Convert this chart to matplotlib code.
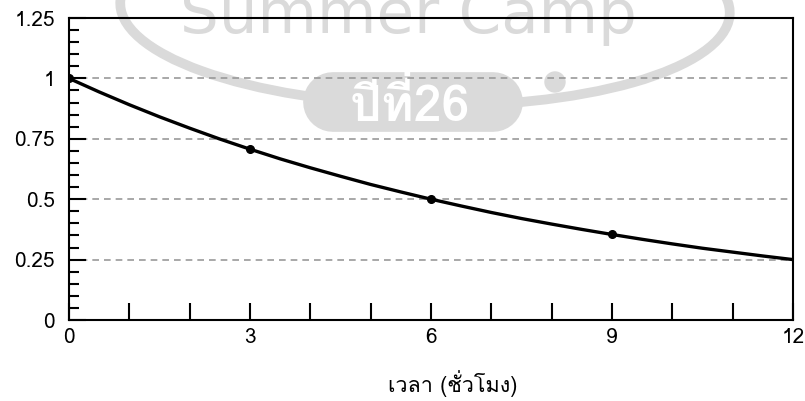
import matplotlib
matplotlib.use("Agg")
import matplotlib.pyplot as plt
from matplotlib import font_manager
from matplotlib.ft2font import FT2Font
from matplotlib.lines import Line2D
from matplotlib.patches import Ellipse
from matplotlib.ticker import MultipleLocator

# data (hours, fraction remaining)
hours = [0, 0.5, 1, 1.5, 2, 2.5, 3, 3.5, 4, 4.5, 5, 5.5, 6,
         6.5, 7, 7.5, 8, 8.5, 9, 9.5, 10, 10.5, 11, 11.5, 12]
remaining = [1.000, 0.944, 0.891, 0.841, 0.794, 0.749, 0.707, 0.667, 0.630,
             0.595, 0.561, 0.530, 0.500, 0.472, 0.445, 0.420, 0.397, 0.375,
             0.354, 0.334, 0.315, 0.297, 0.281, 0.265, 0.250]
marked_hours = [0, 3, 6, 9]
marked_values = [1.0, 0.707, 0.5, 0.354]
x_major = [0, 3, 6, 9, 12]
y_major = [0, 0.25, 0.5, 0.75, 1, 1.25]
y_labels = ["0", "0.25", "0.5", "0.75", "1", "1.25"]
grid_levels = [0.25, 0.5, 0.75, 1.0]
xlabel_text = "เวลา (ชั่วโมง)"


def find_thai_font():
    # pick the first installed font that actually has Thai glyphs
    preferred = []
    others = []
    for f in font_manager.fontManager.ttflist:
        try:
            cmap = FT2Font(f.fname).get_charmap()
        except Exception:
            continue
        if 0x0E40 in cmap and 0x0E27 in cmap:
            if "Thai" in f.name or "Loma" in f.name or "Sarabun" in f.name:
                preferred.append(f.name)
            else:
                others.append(f.name)
    found = preferred + others
    return found[0] if found else None


thai = find_thai_font()
families = [thai, "DejaVu Sans"] if thai else ["DejaVu Sans"]
plt.rcParams['font.family'] = families

W, H = 805, 401
fig = plt.figure(figsize=(W / 100, H / 100), dpi=100)
ax = fig.add_axes([69 / W, 1 - 320 / H, 724 / W, 302 / H])
ax.patch.set_visible(False)


def fx(px):
    return px / W


def fy(py):
    return 1 - py / H


# ------------------------------------------------
# faint watermark behind the axes
# ------------------------------------------------
wm = "#dadada"
ring = Ellipse((fx(425), fy(8)), 610 / W, 195 / H, angle=-3,
               transform=fig.transFigure, fill=False, edgecolor=wm,
               linewidth=7, zorder=-3)
fig.patches.append(ring)
dot = Ellipse((fx(555), fy(82)), 20 / W, 20 / H,
              transform=fig.transFigure, color=wm, zorder=-2)
fig.patches.append(dot)
# pill drawn as a fat line with round caps
pill = Line2D([fx(333), fx(493)], [fy(102), fy(102)], color=wm,
              linewidth=43, solid_capstyle="round",
              transform=fig.transFigure, zorder=-2)
fig.lines.append(pill)
fig.text(fx(410), fy(104), "ปีที่26", color="white", fontsize=36,
         fontweight="bold", ha="center", va="center", zorder=-1,
         family=families)
fig.text(fx(408), fy(33), "Summer Camp", color=wm, fontsize=44,
         ha="center", va="baseline", zorder=-3,
         family=["DejaVu Sans"])

# ------------------------------------------------
# chart
# ------------------------------------------------
for lvl in grid_levels:
    ax.axhline(lvl, color="#999999", linestyle=(0, (4, 3)), linewidth=1.2,
               zorder=1)

ax.plot(hours, remaining, color="black", linewidth=2.4, zorder=3,
        solid_capstyle="round")
ax.plot(marked_hours, marked_values, "o", color="black", markersize=5.5,
        zorder=4)

ax.set_xlim(0, 12)
ax.set_ylim(0, 1.25)
ax.set_xticks(x_major)
ax.set_xticklabels([str(v) for v in x_major])
ax.xaxis.set_minor_locator(MultipleLocator(1))
ax.set_yticks(y_major)
ax.set_yticklabels(y_labels)
ax.yaxis.set_minor_locator(MultipleLocator(0.05))

ax.tick_params(axis="both", which="both", direction="in", width=1.5,
               labelsize=15, colors="black")
ax.tick_params(axis="x", which="both", length=12, pad=6)
ax.tick_params(axis="y", which="major", length=12, pad=10)
ax.tick_params(axis="y", which="minor", length=7)
for s in ax.spines.values():
    s.set_linewidth(1.5)

fig.text(fx(453), fy(384), xlabel_text, fontsize=15.5, ha="center",
         va="center")

fig.savefig("out.png", dpi=100)
